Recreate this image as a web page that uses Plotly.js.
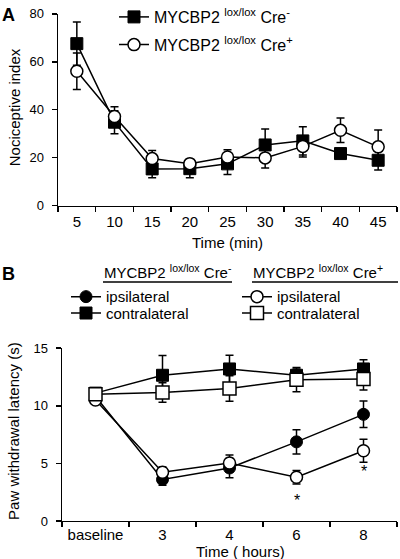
<!DOCTYPE html>
<html><head><meta charset="utf-8">
<script src="https://cdn.plot.ly/plotly-3.0.1.min.js"></script>
<style>html,body{margin:0;padding:0;background:#fff}#chart{width:400px;height:559px}</style>
</head><body><div id="chart"></div>
<script>
// Panel A data
const timeMin = ['5','10','15','20','25','30','35','40','45'];
const creNegA = [67.6, 34.8, 15.3, 15.4, 17.4, 25.3, 27.0, 21.7, 18.9];
const creNegAErr = [9.0, 4.8, 3.7, 3.8, 4.4, 6.7, 5.9, 1.6, 4.1];
const crePosA = [56.1, 37.2, 19.6, 17.5, 20.3, 19.9, 24.7, 31.4, 24.5];
const crePosAErr = [7.6, 4.1, 3.4, 1.5, 3.0, 4.2, 4.4, 5.1, 7.0];
// Panel B data
const timeHours = ['baseline','3','4','6','8'];
const negIpsi = [10.8, 3.6, 4.6, 6.87, 9.26];
const negIpsiErr = [0.3, 0.5, 0.85, 1.05, 1.15];
const negContra = [11.1, 12.65, 13.2, 12.65, 13.2];
const negContraErr = [0.3, 1.72, 1.2, 0.55, 0.8];
const posIpsi = [10.5, 4.23, 5.03, 3.8, 6.1];
const posIpsiErr = [0.3, 0.45, 0.7, 0.58, 1.0];
const posContra = [11.0, 11.15, 11.5, 12.27, 12.33];
const posContraErr = [0.3, 0.85, 1.1, 1.05, 0.95];
const sigX = ['6','8'];
const sigY = [1.8, 4.3];

const FONT = 'Liberation Sans, Arial, sans-serif';
const W = 400, H = 559;
const px = v => v / W;
const py = v => 1 - v / H;

function errs(arr){ return {type:'data', array:arr, visible:true, color:'#000', thickness:1.5, width:4}; }
const filledSq = {symbol:'square', size:12, color:'#000', line:{color:'#000', width:1}};
const openCirc = {symbol:'circle', size:12, color:'#fff', line:{color:'#000', width:1.5}};
const filledCirc = {symbol:'circle', size:12, color:'#000', line:{color:'#000', width:1}};
const openSq = {symbol:'square', size:13, color:'#fff', line:{color:'#000', width:1.5}};
const ln = {color:'#000', width:1.5};
const NEG = 'MYCBP2 <sup>lox/lox</sup> Cre<sup>-</sup>';
const POS = 'MYCBP2 <sup>lox/lox</sup> Cre<sup>+</sup>';

const traces = [
  {x:timeMin, y:creNegA, error_y:errs(creNegAErr), xaxis:'x', yaxis:'y', mode:'lines+markers',
   line:ln, marker:filledSq, name:NEG, legend:'legend'},
  {x:timeMin, y:crePosA, error_y:errs(crePosAErr), xaxis:'x', yaxis:'y', mode:'lines+markers',
   line:ln, marker:openCirc, name:POS, legend:'legend2'},
  {x:timeHours, y:negIpsi, error_y:errs(negIpsiErr), xaxis:'x2', yaxis:'y2', mode:'lines+markers',
   line:ln, marker:filledCirc, name:'ipsilateral', legend:'legend3'},
  {x:timeHours, y:negContra, error_y:errs(negContraErr), xaxis:'x2', yaxis:'y2', mode:'lines+markers',
   line:ln, marker:filledSq, name:'contralateral', legend:'legend4'},
  {x:timeHours, y:posIpsi, error_y:errs(posIpsiErr), xaxis:'x2', yaxis:'y2', mode:'lines+markers',
   line:ln, marker:openCirc, name:'ipsilateral', legend:'legend5'},
  {x:timeHours, y:posContra, error_y:errs(posContraErr), xaxis:'x2', yaxis:'y2', mode:'lines+markers',
   line:ln, marker:openSq, name:'contralateral', legend:'legend6'}
];

function legendAt(x, y, size){
  return {x:x, y:y, xanchor:'left', yanchor:'middle', bgcolor:'rgba(0,0,0,0)', borderwidth:0,
          font:{family:FONT, size:size, color:'#000'}};
}

const axisBase = {showline:true, linecolor:'#000', linewidth:1.5, ticks:'outside', ticklen:5,
  tickwidth:1.5, tickcolor:'#000', showgrid:false, zeroline:false, fixedrange:true};

const sigAnn = sigX.map((sx, i) => ({text:'*', xref:'x2', yref:'y2', x:timeHours.indexOf(sx), y:sigY[i],
  showarrow:false, xanchor:'center', yanchor:'middle', font:{size:16, family:FONT, color:'#000'}}));

const layout = {
  width:W, height:H, margin:{l:0,r:0,t:0,b:0}, paper_bgcolor:'#fff', plot_bgcolor:'#fff',
  font:{family:FONT, color:'#000'},
  showlegend:true,
  xaxis: Object.assign({}, axisBase, {domain:[px(58), px(397)], type:'category', range:[-0.5, 8.5],
    tickson:'boundaries', anchor:'y', tickfont:{size:15, family:FONT}, ticklabelstandoff:2}),
  yaxis: Object.assign({}, axisBase, {domain:[py(203), py(10)], range:[0,80], dtick:20, anchor:'x',
    tickfont:{size:13, family:FONT}, ticklabelstandoff:5}),
  xaxis2: Object.assign({}, axisBase, {domain:[px(62), px(397)], type:'category', range:[-0.5, 4.5],
    tickson:'boundaries', anchor:'y2', tickfont:{size:15, family:FONT}, ticklabelstandoff:0}),
  yaxis2: Object.assign({}, axisBase, {domain:[py(520.7), py(346.7)], range:[0,15], dtick:5, anchor:'x2',
    tickfont:{size:13, family:FONT}, ticklabelstandoff:5}),
  legend: legendAt(px(114), py(13), 16),
  legend2: legendAt(px(114), py(41), 16),
  legend3: legendAt(px(66), py(295), 15),
  legend4: legendAt(px(66), py(311.5), 15),
  legend5: legendAt(px(237), py(295), 15),
  legend6: legendAt(px(237), py(311.5), 15),
  shapes: [
    {type:'line', xref:'paper', yref:'paper', x0:px(103), x1:px(232), y0:py(280), y1:py(280), line:{color:'#000', width:1.5}},
    {type:'line', xref:'paper', yref:'paper', x0:px(252), x1:px(398), y0:py(280), y1:py(280), line:{color:'#000', width:1.5}}
  ],
  annotations: [
    {text:'<b>A</b>', xref:'paper', yref:'paper', x:0, y:py(11), xanchor:'left', yanchor:'middle', showarrow:false, font:{size:18, family:FONT}},
    {text:'<b>B</b>', xref:'paper', yref:'paper', x:0, y:py(272), xanchor:'left', yanchor:'middle', showarrow:false, font:{size:18, family:FONT}},
    {text:'Time (min)', xref:'paper', yref:'paper', x:px(227.5), y:py(240), xanchor:'center', yanchor:'middle', showarrow:false, font:{size:15, family:FONT}},
    {text:'Nociceptive index', xref:'paper', yref:'paper', x:px(14), y:py(104), textangle:-90, xanchor:'center', yanchor:'middle', showarrow:false, font:{size:15, family:FONT}},
    {text:'Paw withdrawal latency (s)', xref:'paper', yref:'paper', x:px(14), y:py(430), textangle:-90, xanchor:'center', yanchor:'middle', showarrow:false, font:{size:15, family:FONT}},
    {text:'Time ( hours)', xref:'paper', yref:'paper', x:px(240), y:py(551), xanchor:'center', yanchor:'middle', showarrow:false, font:{size:15, family:FONT}},
    {text:NEG, xref:'paper', yref:'paper', x:px(103), y:py(280), xanchor:'left', yanchor:'bottom', showarrow:false, font:{size:15, family:FONT}, borderpad:0},
    {text:POS, xref:'paper', yref:'paper', x:px(252), y:py(280), xanchor:'left', yanchor:'bottom', showarrow:false, font:{size:15, family:FONT}, borderpad:0}
  ].concat(sigAnn)
};

Plotly.newPlot('chart', traces, layout, {staticPlot:true, displayModeBar:false});
</script>
</body></html>
